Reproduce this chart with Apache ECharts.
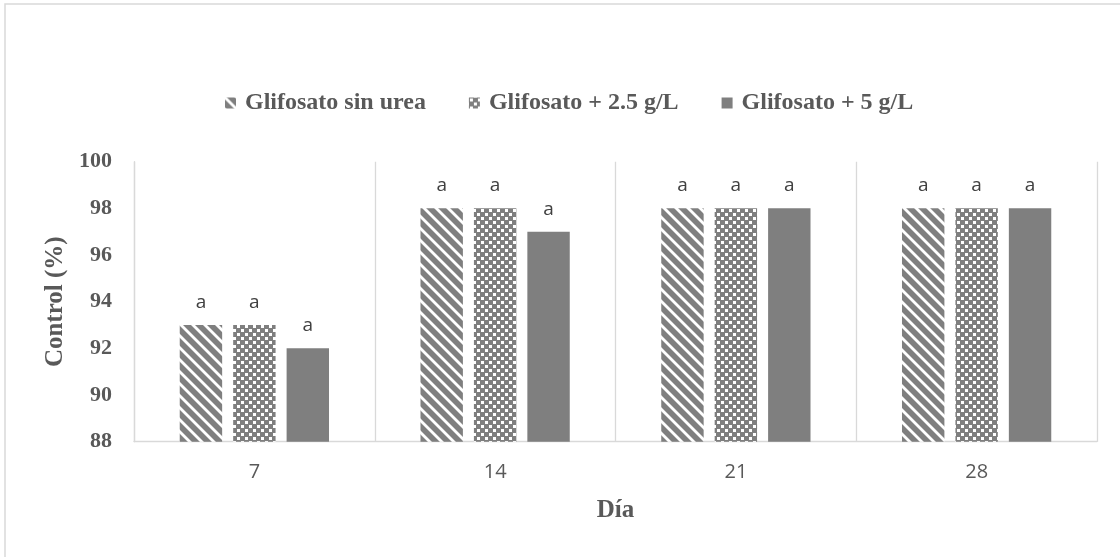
<!DOCTYPE html>
<html>
<head>
<meta charset="utf-8">
<script src="https://cdn.jsdelivr.net/npm/echarts@6/dist/echarts.min.js"></script>
<style>
html,body{margin:0;padding:0;background:#fff;}
#chart{width:1120px;height:557px;}
</style>
</head>
<body>
<div id="chart"></div>
<script>
var categories = ['7', '14', '21', '28'];
var seriesNames = ['Glifosato sin urea', 'Glifosato + 2.5 g/L', 'Glifosato + 5 g/L'];
var sinUrea = [93, 98, 98, 98];
var urea25 = [93, 98, 98, 98];
var urea5 = [92, 97, 98, 98];
var letters = [['a','a','a','a'], ['a','a','a','a'], ['a','a','a','a']];
var yTicks = {min: 88, max: 100, interval: 2};

var GRAY = '#7f7f7f';

function stripeTile() {
  var c = document.createElement('canvas');
  c.width = 12; c.height = 12;
  var g = c.getContext('2d');
  g.fillStyle = GRAY; g.fillRect(0, 0, 12, 12);
  g.strokeStyle = '#ffffff'; g.lineWidth = 2.8;
  [-12, 0, 12].forEach(function (o) {
    g.beginPath(); g.moveTo(o - 2, -2); g.lineTo(o + 14, 14); g.stroke();
  });
  return c;
}
function checkTile() {
  var c = document.createElement('canvas');
  c.width = 8; c.height = 8;
  var g = c.getContext('2d');
  g.fillStyle = GRAY; g.fillRect(0, 0, 8, 8);
  g.fillStyle = '#ffffff';
  g.fillRect(1, 1, 3, 3);
  g.fillRect(5, 5, 3, 3);
  return c;
}
var fills = [
  {image: stripeTile(), repeat: 'repeat'},
  {image: checkTile(), repeat: 'repeat'},
  GRAY
];
var dataSets = [sinUrea, urea25, urea5];

var chart = echarts.init(document.getElementById('chart'), null, {renderer: 'canvas'});
var serif = '"Liberation Serif", "Times New Roman", serif';
var sans = '"Open Sans", "Liberation Sans", sans-serif';

var series = dataSets.map(function (d, i) {
  return {
    name: seriesNames[i],
    type: 'bar',
    data: d,
    barGap: '26%',
    barCategoryGap: '38%',
    itemStyle: {color: fills[i]},
    label: {
      show: true,
      position: 'top',
      distance: 13,
      formatter: function (p) { return letters[i][p.dataIndex]; },
      fontFamily: sans,
      fontSize: 19,
      color: '#404040'
    }
  };
});

chart.setOption({
  animation: false,
  backgroundColor: '#ffffff',
  graphic: [{
    type: 'rect',
    shape: {x: 5, y: 4, width: 1300, height: 700},
    style: {fill: 'none', stroke: '#d9d9d9', lineWidth: 1.5},
    silent: true
  }],
  legend: {
    top: 86,
    left: 220,
    icon: 'rect',
    itemWidth: 11,
    itemHeight: 11,
    itemGap: 43,
    textStyle: {fontFamily: serif, fontWeight: 'bold', fontSize: 24, color: '#595959', padding: [0, 0, 0, 4]},
    data: seriesNames
  },
  grid: {left: 134, right: 23, top: 161.7, bottom: 115.3},
  xAxis: {
    type: 'category',
    data: categories,
    name: 'Día',
    nameLocation: 'middle',
    nameGap: 56,
    nameTextStyle: {fontFamily: serif, fontWeight: 'bold', fontSize: 25, color: '#595959'},
    axisLine: {lineStyle: {color: '#d9d9d9', width: 1.3}},
    axisTick: {show: false},
    splitLine: {show: true, lineStyle: {color: '#d9d9d9', width: 1.3}},
    axisLabel: {fontFamily: sans, fontSize: 20, color: '#595959', margin: 21}
  },
  yAxis: {
    type: 'value',
    min: yTicks.min,
    max: yTicks.max,
    interval: yTicks.interval,
    name: 'Control (%)',
    nameLocation: 'middle',
    nameGap: 64,
    nameTextStyle: {fontFamily: serif, fontWeight: 'bold', fontSize: 25, color: '#595959'},
    axisLine: {show: true, lineStyle: {color: '#d9d9d9', width: 1.3}},
    axisTick: {show: false},
    splitLine: {show: false},
    axisLabel: {fontFamily: serif, fontWeight: 'bold', fontSize: 22, color: '#595959', margin: 22}
  },
  series: series
});
</script>
</body>
</html>
